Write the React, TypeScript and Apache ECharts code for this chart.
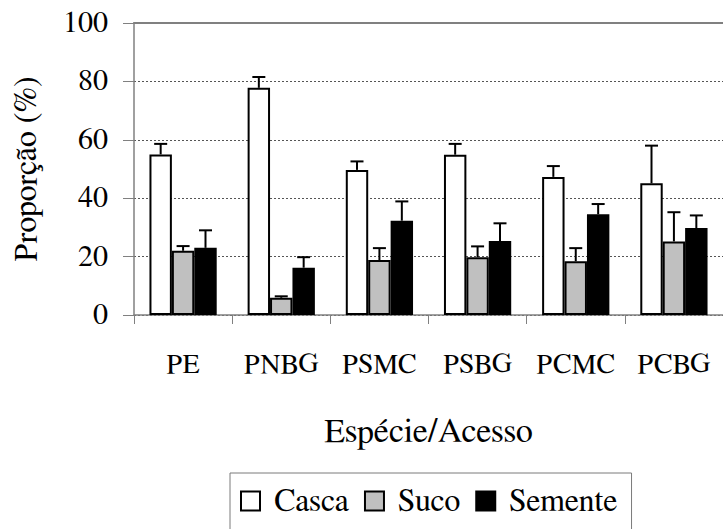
import React, { useEffect, useRef } from "react";
import * as echarts from "echarts";

const categories = ["PE", "PNBG", "PSMC", "PSBG", "PCMC", "PCBG"];
const seriesNames = ["Casca", "Suco", "Semente"];
const cascaValues = [55.0, 77.8, 49.7, 54.9, 47.3, 45.1];
const cascaErrors = [3.6, 3.7, 2.9, 3.7, 3.7, 12.9];
const sucoValues = [22.0, 5.9, 18.8, 19.8, 18.4, 25.2];
const sucoErrors = [1.6, 0.5, 4.1, 3.7, 4.5, 10.0];
const sementeValues = [23.0, 16.2, 32.3, 25.3, 34.5, 29.8];
const sementeErrors = [6.0, 3.6, 6.6, 6.1, 3.5, 4.3];
const yTicks = { min: 0, max: 100, interval: 20 };

const FONT = "FreeSerif";
const CATEGORY_GAP = 0.315;

export default function App() {
  const ref = useRef<HTMLDivElement>(null);

  useEffect(() => {
    if (!ref.current) return;
    const chart = echarts.init(ref.current, undefined, { renderer: "svg" });

    const allValues = [cascaValues, sucoValues, sementeValues];
    const allErrors = [cascaErrors, sucoErrors, sementeErrors];
    const errData: number[][] = [];
    allValues.forEach((vals, s) => {
      vals.forEach((v, c) => {
        errData.push([c, s, v, allErrors[s][c]]);
      });
    });

    const barStyles = [
      { color: "#ffffff", borderColor: "#000000", borderWidth: 2 },
      { color: "#c0c0c0", borderColor: "#000000", borderWidth: 2 },
      { color: "#000000", borderColor: "#000000", borderWidth: 2 },
    ];

    const option: any = {
      animation: false,
      backgroundColor: "#ffffff",
      textStyle: { fontFamily: FONT },
      grid: { left: 134, top: 23, width: 595, height: 292, containLabel: false },
      legend: {
        data: seriesNames,
        left: 230,
        top: 473,
        padding: [12, 14, 40, 10],
        borderColor: "#7a7a7a",
        borderWidth: 1,
        itemWidth: 19,
        itemHeight: 19,
        itemGap: 15,
        icon: "rect",
        textStyle: {
          fontFamily: FONT,
          fontSize: 32,
          color: "#000000",
          padding: [0, 0, 0, 9],
        },
      },
      xAxis: [
        {
          type: "category",
          data: categories,
          position: "bottom",
          name: "Espécie/Acesso",
          nameLocation: "middle",
          nameGap: 100,
          nameTextStyle: { fontFamily: FONT, fontSize: 34, color: "#000000" },
          axisLine: { show: true, lineStyle: { color: "#808080", width: 1.5 } },
          axisTick: {
            show: true,
            alignWithLabel: false,
            interval: 0,
            length: 9,
            lineStyle: { color: "#808080", width: 1 },
          },
          axisLabel: {
            interval: 0,
            fontFamily: FONT,
            fontSize: 28,
            color: "#000000",
            margin: 36,
          },
          splitLine: { show: false },
        },
        {
          type: "category",
          data: categories,
          position: "top",
          axisLine: { show: true, lineStyle: { color: "#808080", width: 2 } },
          axisTick: { show: false },
          axisLabel: { show: false },
          splitLine: { show: false },
        },
      ],
      yAxis: {
        type: "value",
        min: yTicks.min,
        max: yTicks.max,
        interval: yTicks.interval,
        name: "Proporção (%)",
        nameLocation: "middle",
        nameRotate: 90,
        nameGap: 92,
        nameTextStyle: { fontFamily: FONT, fontSize: 32, color: "#000000" },
        axisLine: { show: true, lineStyle: { color: "#808080", width: 1.5 } },
        axisTick: { show: true, length: 11, lineStyle: { color: "#808080", width: 1 } },
        axisLabel: { fontFamily: FONT, fontSize: 30, color: "#000000", margin: 26 },
        splitLine: {
          show: true,
          lineStyle: { color: "#555555", width: 1, type: [2, 2] },
        },
      },
      series: [
        ...seriesNames.map((name, i) => ({
          name,
          type: "bar",
          data: allValues[i],
          barGap: "0%",
          barCategoryGap: `${CATEGORY_GAP * 100}%`,
          itemStyle: barStyles[i],
          emphasis: { disabled: true },
        })),
        {
          name: "errors",
          type: "custom",
          data: errData,
          z: 10,
          encode: { x: 0, y: 2 },
          renderItem: (params: any, api: any) => {
            const c = api.value(0);
            const s = api.value(1);
            const v = api.value(2);
            const e = api.value(3);
            const band = api.size([1, 0])[0];
            const barW = (band * (1 - CATEGORY_GAP)) / 3;
            const cx = api.coord([c, 0])[0] + (s - 1) * barW;
            const yBase = api.coord([c, v])[1];
            const yTop = api.coord([c, v + e])[1];
            const half = 6.5;
            const style = { stroke: "#000000", lineWidth: 2 };
            return {
              type: "group",
              children: [
                { type: "line", shape: { x1: cx, y1: yBase, x2: cx, y2: yTop }, style },
                { type: "line", shape: { x1: cx - half, y1: yTop, x2: cx + half, y2: yTop }, style },
              ],
            };
          },
        },
      ],
    };

    chart.setOption(option);
    return () => chart.dispose();
  }, []);

  return (
    <div
      ref={ref}
      style={{ position: "fixed", left: 0, top: 0, width: 723, height: 529, background: "#fff" }}
    />
  );
}
